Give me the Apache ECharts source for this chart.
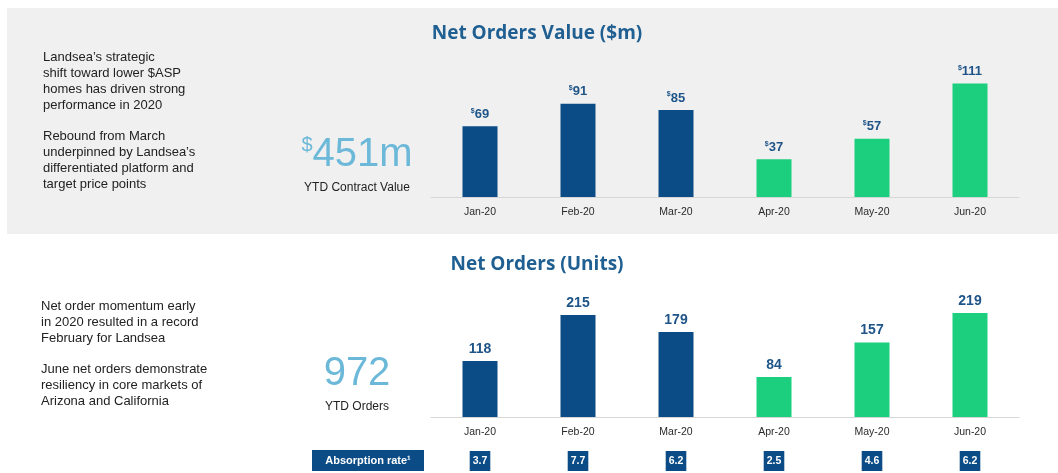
<!DOCTYPE html>
<html>
<head>
<meta charset="utf-8">
<script src="https://cdn.jsdelivr.net/npm/echarts@6/dist/echarts.min.js"></script>
<style>
html,body{margin:0;padding:0;background:#fff;}
#c{width:1058px;height:473px;}
</style>
</head>
<body>
<div id="c"></div>
<script>
// ---- data ----
var months = ['Jan-20', 'Feb-20', 'Mar-20', 'Apr-20', 'May-20', 'Jun-20'];
var orderValues = [69, 91, 85, 37, 57, 111];      // $m
var orderUnits = [118, 215, 179, 84, 157, 219];   // units
var absorption = ['3.7', '7.7', '6.2', '2.5', '4.6', '6.2'];
var ytdValue = '451m';
var ytdUnits = '972';
var titleValue = 'Net Orders Value ($m)';
var titleUnits = 'Net Orders (Units)';
var textTop1 = ['Landsea\u2019s strategic', 'shift toward lower $ASP', 'homes has driven strong', 'performance in 2020'];
var textTop2 = ['Rebound from March', 'underpinned by Landsea\u2019s', 'differentiated platform and', 'target price points'];
var textBot1 = ['Net order momentum early', 'in 2020 resulted in a record', 'February for Landsea'];
var textBot2 = ['June net orders demonstrate', 'resiliency in core markets of', 'Arizona and California'];

// ---- styles ----
var BLUE = '#0b4c86', GREEN = '#1ccf7e', LABEL = '#1f5488', TITLE = '#1f5f91', BIG = '#6cb8d8';
var FONT = '"Liberation Sans", Arial, sans-serif';
var TFONT = '"Open Sans", "Liberation Sans", sans-serif';
function barColor(p) { return p.dataIndex < 3 ? BLUE : GREEN; }

var chart = echarts.init(document.getElementById('c'), null, {renderer: 'canvas'});

function para(lines, x, y, lh) {
  return {type: 'text', left: x, top: y, style: {text: lines.join('\n'), font: '13px ' + FONT, fill: '#222', lineHeight: lh}};
}
function title(t, y) {
  return {type: 'text', x: 537, y: y, style: {text: t, textAlign: 'center', textVerticalAlign: 'middle',
    font: 'bold 19px ' + TFONT, fill: TITLE}};
}

var option = {
  animation: false,
  backgroundColor: '#ffffff',
  textStyle: {fontFamily: FONT},
  grid: [
    {left: 431, right: 39, top: 67, bottom: 276},
    {left: 431, right: 39, top: 303, bottom: 56}
  ],
  xAxis: [
    {type: 'category', gridIndex: 0, data: months,
     axisLine: {lineStyle: {color: '#d6d6d6'}}, axisTick: {show: false},
     axisLabel: {fontSize: 10.5, color: '#2a2a2a', margin: 10}},
    {type: 'category', gridIndex: 1, data: months,
     axisLine: {lineStyle: {color: '#d6d6d6'}}, axisTick: {show: false},
     axisLabel: {fontSize: 10.5, color: '#2a2a2a', margin: 10}},
    {type: 'category', gridIndex: 1, data: months, position: 'bottom', offset: 26,
     axisLine: {show: false}, axisTick: {show: false},
     axisLabel: {margin: 8, fontSize: 10.5, fontWeight: 'bold', color: '#fff',
       backgroundColor: BLUE, padding: [4, 3, 4, 3], lineHeight: 12,
       formatter: function (v, i) { return absorption[i]; }}}
  ],
  yAxis: [
    {type: 'value', gridIndex: 0, min: 0, max: 127, show: false},
    {type: 'value', gridIndex: 1, min: 0, max: 240, show: false}
  ],
  series: [
    {type: 'bar', xAxisIndex: 0, yAxisIndex: 0, data: orderValues, barWidth: 35,
     itemStyle: {color: barColor},
     label: {show: true, position: 'top', distance: 5,
       formatter: function (p) { return '{s|$}{v|' + p.value + '}'; },
       rich: {s: {fontSize: 7, fontWeight: 'bold', color: LABEL, verticalAlign: 'top', lineHeight: 14},
              v: {fontSize: 13, fontWeight: 'bold', color: LABEL, lineHeight: 14}}}},
    {type: 'bar', xAxisIndex: 1, yAxisIndex: 1, data: orderUnits, barWidth: 35,
     itemStyle: {color: barColor},
     label: {show: true, position: 'top', distance: 5, fontSize: 14, fontWeight: 'bold', color: LABEL}}
  ],
  graphic: [
    {type: 'rect', z: -10, shape: {x: 7, y: 8, width: 1051, height: 226}, style: {fill: '#f0f0f0'}},
    title(titleValue, 34),
    title(titleUnits, 265),
    para(textTop1, 43, 49, 16),
    para(textTop2, 43, 128, 16),
    para(textBot1, 41, 298, 16),
    para(textBot2, 41, 361, 16),
    {type: 'text', x: 357, y: 175, style: {
      text: '{d|$}{n|' + ytdValue + '}', textAlign: 'center', textVerticalAlign: 'bottom',
      rich: {d: {fontSize: 20, fill: BIG, fontFamily: FONT, verticalAlign: 'top', lineHeight: 40},
             n: {fontSize: 40, fill: BIG, fontFamily: FONT, lineHeight: 40}}}},
    {type: 'text', x: 357, y: 182, style: {text: 'YTD Contract Value', textAlign: 'center',
      font: '12px ' + FONT, fill: '#222'}},
    {type: 'text', x: 357, y: 394, style: {text: ytdUnits, textAlign: 'center', textVerticalAlign: 'bottom',
      font: '40px ' + FONT, fill: BIG}},
    {type: 'text', x: 357, y: 401, style: {text: 'YTD Orders', textAlign: 'center',
      font: '12px ' + FONT, fill: '#222'}},
    {type: 'rect', shape: {x: 312, y: 450, width: 112, height: 21}, style: {fill: BLUE}},
    {type: 'text', x: 368, y: 461, style: {text: 'Absorption rate\u00b9', textAlign: 'center', textVerticalAlign: 'middle',
      font: 'bold 11px ' + FONT, fill: '#fff'}}
  ]
};
chart.setOption(option);
</script>
</body>
</html>
